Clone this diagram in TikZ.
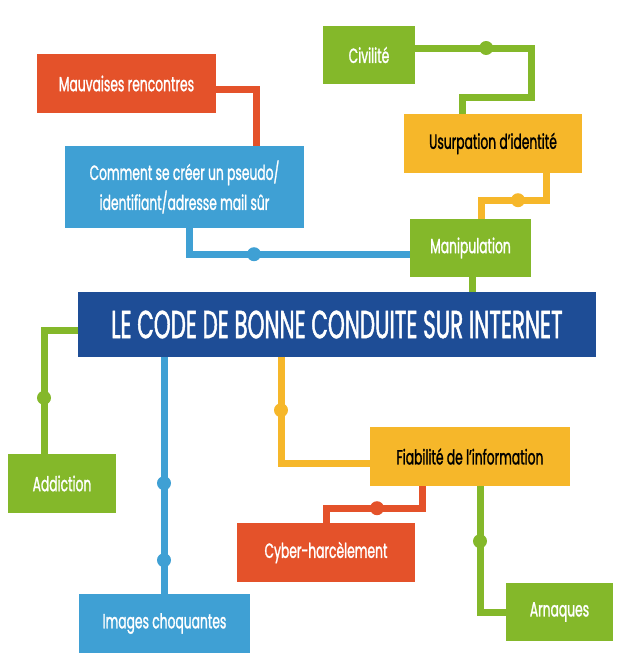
\documentclass[tikz,border=0pt]{standalone}
\usepackage{fontspec}
\setmainfont[FakeStretch=0.6,FakeBold=1.2]{Poppins}
\newfontfamily\titlefont[FakeStretch=0.55,FakeBold=1.2]{Poppins}
\usetikzlibrary{backgrounds}
\definecolor{cred}{HTML}{E4522A}
\definecolor{cgreen}{HTML}{84B82A}
\definecolor{cyell}{HTML}{F6B72A}
\definecolor{cblue}{HTML}{3FA0D4}
\definecolor{cdark}{HTML}{1E4D96}
\tikzset{
  box/.style={rectangle, inner sep=0pt, align=center, text=white,
    font=\fontsize{20.5}{30}\selectfont},
  yellowbox/.style={box, fill=cyell, text=black},
  link/.style={line width=7pt},
  dot/.style={circle, inner sep=0pt, minimum size=14pt},
}
\begin{document}
\begin{tikzpicture}[x=1pt,y=-1pt]
\useasboundingbox (0,0) rectangle (630,670);
\node[box, fill=cred, minimum width=179pt, minimum height=59pt] (mauv) at (126.5,83.5) {Mauvaises rencontres};
\node[box, fill=cgreen, minimum width=92pt, minimum height=58pt] (civ) at (369,55) {Civilité};
\node[yellowbox, minimum width=178pt, minimum height=59pt] (usurp) at (493,143.5) {Usurpation d’identité};
\node[box, fill=cblue, minimum width=239pt, minimum height=82pt] (comment) at (184.5,187) {Comment se créer un pseudo/\\identifiant/adresse mail sûr};
\node[box, fill=cgreen, minimum width=121pt, minimum height=58pt] (manip) at (470.5,248) {Manipulation};
\node[box, fill=cdark, minimum width=518pt, minimum height=65pt, font=\titlefont\fontsize{39}{42}\selectfont] (title) at (337,324.5) {LE CODE DE BONNE CONDUITE SUR INTERNET};
\node[box, fill=cgreen, minimum width=108pt, minimum height=59pt] (addic) at (62,483.5) {Addiction};
\node[yellowbox, minimum width=200pt, minimum height=59pt] (fiab) at (470,456.5) {Fiabilité de l’information};
\node[box, fill=cred, minimum width=178pt, minimum height=59pt] (cyber) at (326,552.5) {Cyber-harcèlement};
\node[box, fill=cblue, minimum width=171pt, minimum height=59pt] (images) at (164.5,623.5) {Images choquantes};
\node[box, fill=cgreen, minimum width=107pt, minimum height=58pt] (arnaq) at (559.5,612) {Arnaques};
\begin{pgfonlayer}{background}
% Mauvaises -> Comment
\draw[link, cred] ([yshift=-5.5pt]mauv.east) -| ([xshift=71.5pt]comment.north);
% Civilite -> Usurpation
\draw[link, cgreen] ([yshift=7pt]civ.east) -- ++(116,0) -- ++(0,49) -| ([xshift=-31pt]usurp.north);
\node[dot, fill=cgreen] (d1) at ([xshift=71pt,yshift=7pt]civ.east) {};
% Usurpation -> Manipulation
\draw[link, cyell] ([xshift=53pt]usurp.south) -- ++(0,27) -| ([xshift=10.5pt]manip.north);
\node[dot, fill=cyell] (d2) at ([xshift=25pt,yshift=-27pt]usurp.south) {};
% Comment -> Manipulation
\draw[link, cblue] ([xshift=4.5pt]comment.south) |- ([yshift=-6pt]manip.west);
\node[dot, fill=cblue] (d3) at ([xshift=69.5pt,yshift=-26pt]comment.south) {};
% Manipulation -> title
\draw[link, cgreen] ([xshift=1.5pt]manip.south) -- ([xshift=1.5pt]manip.south |- title.north);
% title -> Addiction
\draw[link, cgreen] ([yshift=-5.5pt]title.west) -| ([xshift=-18pt]addic.north);
\node[dot, fill=cgreen] (d4) at ([xshift=-18pt,yshift=56pt]addic.north) {};
% title -> Images
\draw[link, cblue] ([xshift=-173pt]title.south) -- ([xshift=-173pt]title.south |- images.north);
\node[dot, fill=cblue] (d5) at ([xshift=-173pt,yshift=-126pt]title.south) {};
\node[dot, fill=cblue] (d6) at ([xshift=-173pt,yshift=-203pt]title.south) {};
% title -> Fiabilite
\draw[link, cyell] ([xshift=-56pt]title.south) |- ([yshift=-6.5pt]fiab.west);
\node[dot, fill=cyell] (d7) at ([xshift=-56pt,yshift=-53pt]title.south) {};
% Fiabilite -> Cyber
\draw[link, cred] ([xshift=-48pt]fiab.south) -- ++(0,22) -| (cyber.north);
\node[dot, fill=cred] (d8) at ([xshift=-93pt,yshift=-22pt]fiab.south) {};
% Fiabilite -> Arnaques
\draw[link, cgreen] ([xshift=10pt]fiab.south) |- (arnaq.west);
\node[dot, fill=cgreen] (d9) at ([xshift=10pt,yshift=-55pt]fiab.south) {};
\end{pgfonlayer}
\end{tikzpicture}
\end{document}
